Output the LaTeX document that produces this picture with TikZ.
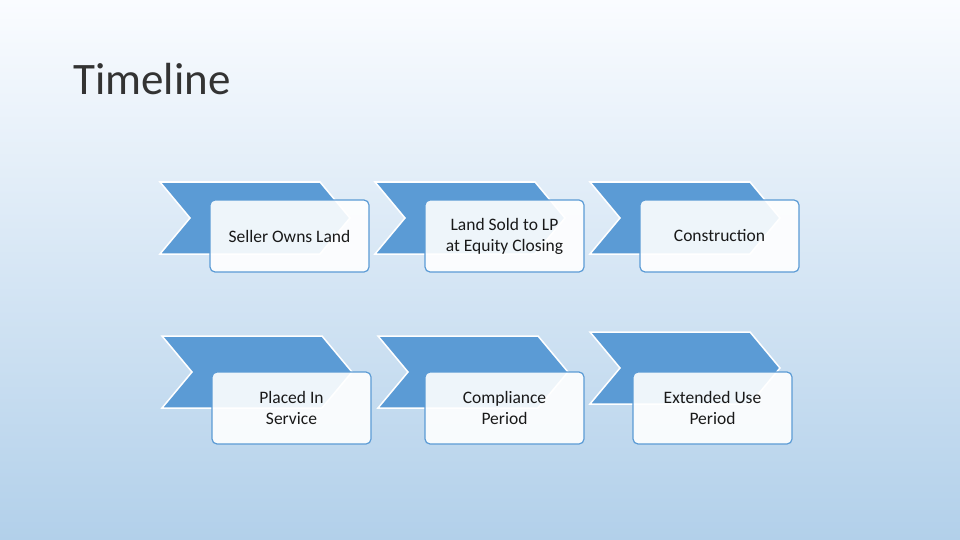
\documentclass[tikz,border=0pt]{standalone}
\usepackage{fontspec}
\setmainfont{Carlito}
\definecolor{chev}{RGB}{91,155,213}
\definecolor{bgtop}{RGB}{250,252,255}
\definecolor{bgbot}{RGB}{178,208,234}
\begin{document}
\begin{tikzpicture}[x=1pt,y=-1pt,
  chevshape/.style={fill=chev,draw=white,line width=1.5pt},
  boxshape/.style={fill=white,fill opacity=0.9,draw=chev,line width=1.2pt,rounded corners=5pt},
  lbl/.style={font=\fontsize{17.5}{21}\selectfont,align=center,text=black!90}]
\shade[top color=bgtop,bottom color=bgbot] (0,0) rectangle (960,540);
\useasboundingbox (0,0) rectangle (960,540);
\node[anchor=base west,font=\fontsize{45}{52}\selectfont,text=black!80,inner sep=0pt] (title) at (73,95) {Timeline};
\foreach \cx/\cy/\bx/\by/\t/\n in {
 160/182/210/200/{Seller Owns Land}/a,
 375/182/425/200/{Land Sold to LP\\at Equity Closing}/b,
 590/182/640/200/{Construction}/c,
 162/336/212/372/{Placed In\\Service}/d,
 378/336/425/372/{Compliance\\Period}/e,
 590/332/633/372/{Extended Use\\Period}/f}{
 \draw[chevshape] (\cx,\cy) -- ++(160,0) -- ++(30,36) -- ++(-30,36) -- ++(-160,0) -- ++(30,-36) -- cycle;
 \draw[boxshape] (\bx,\by) rectangle ++(159,72);
 \node[lbl] (\n) at (\bx+79.5,\by+36) {\t};
}
\end{tikzpicture}
\end{document}
